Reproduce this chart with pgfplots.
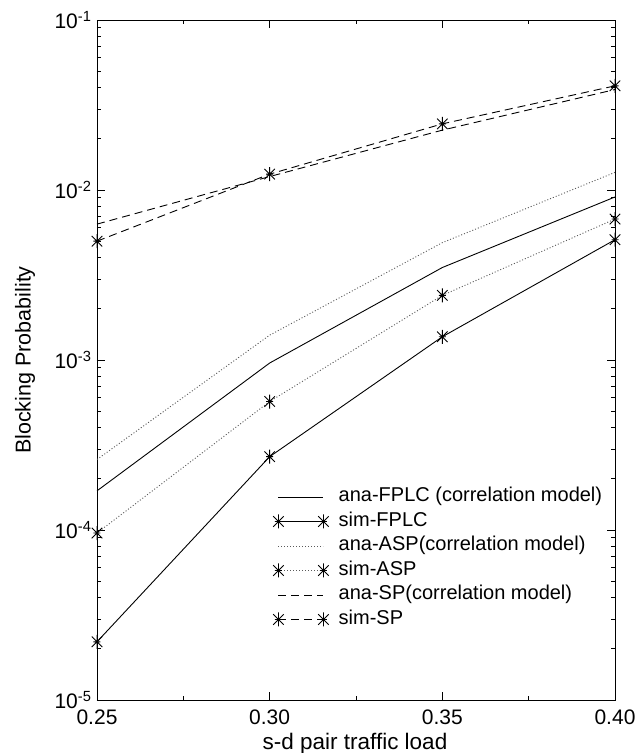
\documentclass[border=0pt]{standalone}
\usepackage{pgfplots}
\pgfplotsset{compat=1.18}
\usepackage{fontspec}
\setmainfont{Liberation Sans}
\pgfdeclareplotmark{mstar}{%
  \pgfpathmoveto{\pgfqpoint{0pt}{\pgfplotmarksize}}\pgfpathlineto{\pgfqpoint{0pt}{-\pgfplotmarksize}}%
  \pgfpathmoveto{\pgfqpoint{0.5\pgfplotmarksize}{0pt}}\pgfpathlineto{\pgfqpoint{-0.5\pgfplotmarksize}{0pt}}%
  \pgfpathmoveto{\pgfqpoint{0.75\pgfplotmarksize}{0.75\pgfplotmarksize}}\pgfpathlineto{\pgfqpoint{-0.75\pgfplotmarksize}{-0.75\pgfplotmarksize}}%
  \pgfpathmoveto{\pgfqpoint{0.75\pgfplotmarksize}{-0.75\pgfplotmarksize}}\pgfpathlineto{\pgfqpoint{-0.75\pgfplotmarksize}{0.75\pgfplotmarksize}}%
  \pgfusepathqstroke}
\definecolor{dotgray}{RGB}{90,90,90}
\begin{document}
\begin{tikzpicture}
\path[use as bounding box] (-97pt,-53pt) rectangle (547pt,700pt);
\begin{axis}[
  scale only axis, width=518pt, height=680pt,
  ymode=log, ymin=1e-5, ymax=1e-1,
  xmin=0.25, xmax=0.40,
  xtick={0.25,0.30,0.35,0.40}, xticklabels={0.25,0.30,0.35,0.40},
  minor x tick num=1,
  ytick={1e-5,1e-4,1e-3,1e-2,1e-1},
  yticklabels={10\textsuperscript{-5},10\textsuperscript{-4},10\textsuperscript{-3},10\textsuperscript{-2},10\textsuperscript{-1}},
  tick align=inside, tick pos=both,
  major tick length=8pt, minor tick length=4pt,
  every tick/.style={black, line width=0.7pt},
  axis line style={line width=0.9pt},
  tick label style={font=\fontsize{21}{21}\selectfont},
  xticklabel style={yshift=-6pt},
  yticklabel style={xshift=-2pt},
  xlabel={s-d pair traffic load},
  ylabel={Blocking Probability},
  xlabel style={font=\fontsize{22.5}{22.5}\selectfont, at={(axis description cs:0.498,-0.064)}, anchor=center},
  ylabel style={font=\fontsize{21.5}{21.5}\selectfont, at={(axis description cs:-0.139,0.5)}, anchor=center},
  legend style={draw=none, fill=none, at={(0.334,0.318)}, anchor=north west,
    font=\fontsize{20}{20}\selectfont, row sep=2.5pt,
    nodes={inner sep=1pt, text height=15pt, text depth=5pt},
    /tikz/every odd column/.append style={column sep=9pt}},
  legend cell align=left,
  legend image code/.code={\draw[#1] plot coordinates {(0pt,0pt) (45pt,0pt)};},
  every axis plot/.append style={line width=0.9pt, mark size=7pt},
]
\addplot[black, solid] coordinates {(0.25,1.7e-4) (0.30,9.6e-4) (0.35,3.5e-3) (0.40,9.1e-3)};
\addlegendentry{ana-FPLC (correlation model)}
\addplot[black, solid, mark=mstar, mark options={solid}] coordinates {(0.25,2.2e-5) (0.30,2.7e-4) (0.35,1.37e-3) (0.40,5.1e-3)};
\addlegendentry{sim-FPLC}
\addplot[dotgray, dash pattern=on 1pt off 2pt] coordinates {(0.25,2.6e-4) (0.30,1.4e-3) (0.35,4.9e-3) (0.40,1.27e-2)};
\addlegendentry{ana-ASP(correlation model)}
\addplot[dotgray, dash pattern=on 1pt off 2pt, mark=mstar, mark options={solid, black}] coordinates {(0.25,9.6e-5) (0.30,5.7e-4) (0.35,2.4e-3) (0.40,6.75e-3)};
\addlegendentry{sim-ASP}
\addplot[black, dash pattern=on 8pt off 5pt] coordinates {(0.25,6.3e-3) (0.30,1.2e-2) (0.35,2.25e-2) (0.40,3.9e-2)};
\addlegendentry{ana-SP(correlation model)}
\addplot[black, dash pattern=on 8pt off 5pt, mark=mstar, mark options={solid}] coordinates {(0.25,5.0e-3) (0.30,1.24e-2) (0.35,2.45e-2) (0.40,4.1e-2)};
\addlegendentry{sim-SP}
\end{axis}
\end{tikzpicture}
\end{document}
